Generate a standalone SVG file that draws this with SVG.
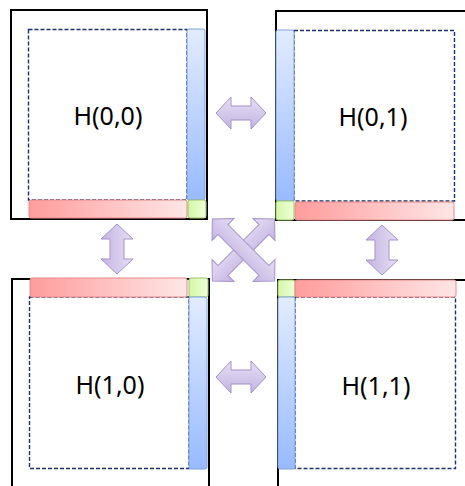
<svg xmlns="http://www.w3.org/2000/svg" width="465" height="486" viewBox="0 0 465 486">
<defs>
<linearGradient id="gRed" x1="0" y1="0" x2="1" y2="0"><stop offset="0" stop-color="#ff9c9c"/><stop offset="1" stop-color="#ffe6e6"/></linearGradient>
<linearGradient id="gBlue" x1="0" y1="0" x2="0" y2="1"><stop offset="0" stop-color="#e2ecff"/><stop offset="1" stop-color="#98baff"/></linearGradient>
<linearGradient id="gGreen" x1="0" y1="0" x2="1" y2="0"><stop offset="0" stop-color="#d4f7a8"/><stop offset="1" stop-color="#eeffd8"/></linearGradient>
<linearGradient id="gArrow" x1="0" y1="0" x2="0" y2="1"><stop offset="0" stop-color="#e6def4"/><stop offset="1" stop-color="#c4b4e2"/></linearGradient>
<path id="dbl" d="M -25 0 L -10 -16 L -10 -7 L 10 -7 L 10 -16 L 25 0 L 10 16 L 10 7 L -10 7 L -10 16 Z"/>
<path id="dblLong" d="M -44 0 L -29 -15.5 L -29 -7 L 29 -7 L 29 -15.5 L 44 0 L 29 15.5 L 29 7 L -29 7 L -29 15.5 Z"/>
</defs>
<style>
.outer{fill:none;stroke:#000;stroke-width:2}
.inner{fill:#fff;stroke:#1a3272;stroke-width:1.4;stroke-dasharray:4 2}
.red{fill:url(#gRed);stroke:#e68a8a;stroke-width:1}
.blue{fill:url(#gBlue);stroke:#7ea2dc;stroke-width:1}
.green{fill:url(#gGreen);stroke:#9dc466;stroke-width:1}
.arrow{fill:url(#gArrow);stroke:#a592cc;stroke-width:1}
.lbl{font-family:"Noto Sans","DejaVu Sans",sans-serif;font-size:25px;fill:#000;text-anchor:middle}
</style>
<rect width="465" height="486" fill="#fff"/>
<g id="H00">
<rect class="outer" x="11" y="10" width="196" height="209"/>
<rect class="inner" x="28.5" y="29.5" width="158.5" height="170.5"/>
<rect class="blue" x="187" y="29" width="18" height="171" rx="2"/>
<rect class="red" x="29" y="200" width="158" height="18" rx="2"/>
<rect class="green" x="188" y="200" width="18" height="18" rx="2"/>
<text class="lbl" x="108" y="125">H(0,0)</text>
</g>
<g id="H01">
<rect class="outer" x="276" y="11" width="200" height="209"/>
<rect class="inner" x="294" y="30.5" width="160.5" height="170.5"/>
<rect class="blue" x="276" y="30" width="18" height="171" rx="2"/>
<rect class="red" x="295" y="202" width="159" height="18" rx="2"/>
<rect class="green" x="276" y="201" width="18" height="19" rx="2"/>
<text class="lbl" x="373" y="126">H(0,1)</text>
</g>
<g id="H10">
<rect class="outer" x="12" y="279" width="197" height="220"/>
<rect class="inner" x="29.5" y="297" width="159.5" height="171.5"/>
<rect class="red" x="30" y="278" width="157" height="19" rx="2"/>
<rect class="green" x="189" y="278" width="19" height="19" rx="2"/>
<rect class="blue" x="189" y="297" width="18" height="172" rx="2"/>
<text class="lbl" x="110" y="394">H(1,0)</text>
</g>
<g id="H11">
<rect class="outer" x="278" y="280" width="200" height="220"/>
<rect class="inner" x="295" y="297" width="160.5" height="171.5"/>
<rect class="green" x="278" y="280" width="17" height="17" rx="2"/>
<rect class="red" x="295" y="280" width="161" height="17" rx="2"/>
<rect class="blue" x="278" y="297" width="17" height="172" rx="2"/>
<text class="lbl" x="376" y="395">H(1,1)</text>
</g>
<g id="connectors">
<use href="#dbl" class="arrow" transform="translate(241,113)"/>
<use href="#dbl" class="arrow" transform="translate(241,377)"/>
<use href="#dbl" class="arrow" transform="translate(117,249) rotate(90)"/>
<use href="#dbl" class="arrow" transform="translate(382,250) rotate(90)"/>
<use href="#dblLong" class="arrow" transform="translate(243.5,250) rotate(-45)"/>
<use href="#dblLong" class="arrow" transform="translate(243.5,250) rotate(45)"/>
</g>
</svg>
